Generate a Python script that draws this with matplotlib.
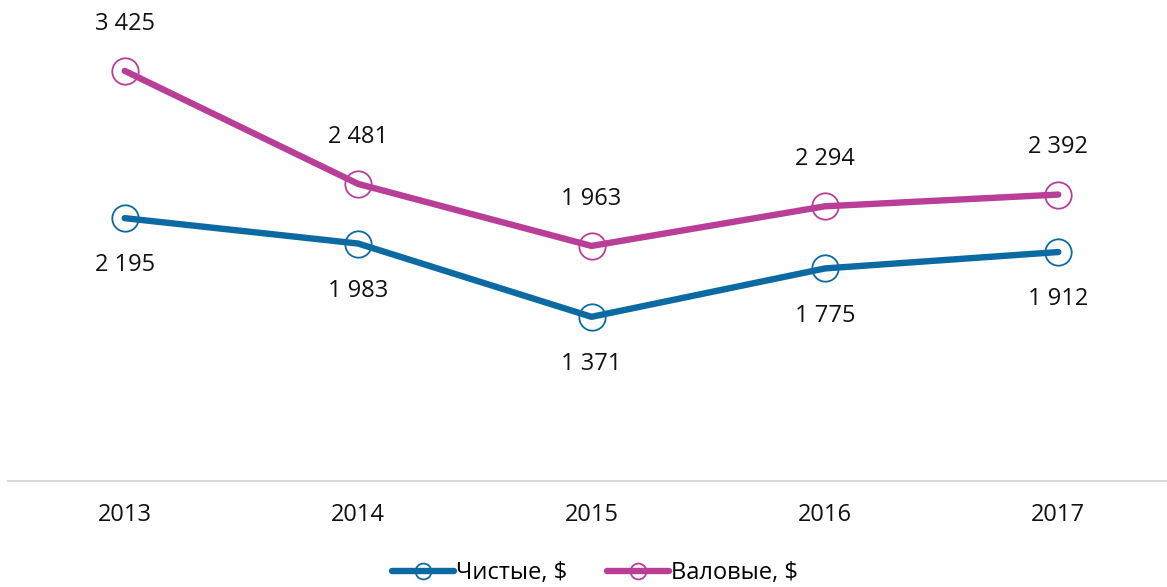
import matplotlib.pyplot as plt

# данные
years = ["2013", "2014", "2015", "2016", "2017"]
net = [2195, 1983, 1371, 1775, 1912]
gross = [3425, 2481, 1963, 2294, 2392]

BLUE = "#0b6aa2"
MAGENTA = "#b83e98"
FS = 17

plt.rcParams['font.family'] = ['Open Sans', 'DejaVu Sans']

fig = plt.figure(figsize=(11.67, 5.87), dpi=100)
ax = fig.add_axes([8 / 1167, (587 - 481) / 587, 1167 / 1167, 479 / 587])

x = list(range(len(years)))


def fmt(v):
    return f"{v:,}".replace(",", " ")


ax.plot(x, net, color=BLUE, lw=4.6, marker="o", ms=19, mfc="none",
        mec=BLUE, mew=1.3, label="Чистые, $", solid_capstyle="round")
ax.plot(x, gross, color=MAGENTA, lw=4.6, marker="o", ms=19, mfc="none",
        mec=MAGENTA, mew=1.3, label="Валовые, $", solid_capstyle="round")

for xi, v in zip(x, net):
    ax.annotate(fmt(v), (xi, v), xytext=(0, -34), textcoords="offset points",
                ha="center", va="center", fontsize=FS, color="#111111")
for xi, v in zip(x, gross):
    ax.annotate(fmt(v), (xi, v), xytext=(0, 34), textcoords="offset points",
                ha="center", va="center", fontsize=FS, color="#111111")

ax.set_xlim(-0.5, 4.5)
ax.set_ylim(0, 4000)
ax.set_xticks(x)
ax.set_xticklabels(years, fontsize=FS, color="#111111")
ax.tick_params(axis="x", length=0, pad=16)
ax.set_yticks([])
for s in ["top", "right", "left"]:
    ax.spines[s].set_visible(False)
ax.spines["bottom"].set_color("#d9d9d9")
ax.spines["bottom"].set_linewidth(1.5)

leg = fig.legend(loc="center", bbox_to_anchor=(595 / 1167, 1 - 573 / 587), ncol=2,
                 frameon=False, fontsize=FS, handlelength=2.6, handletextpad=0.1,
                 columnspacing=1.7, markerscale=0.6)

fig.savefig("out.png", dpi=100)
